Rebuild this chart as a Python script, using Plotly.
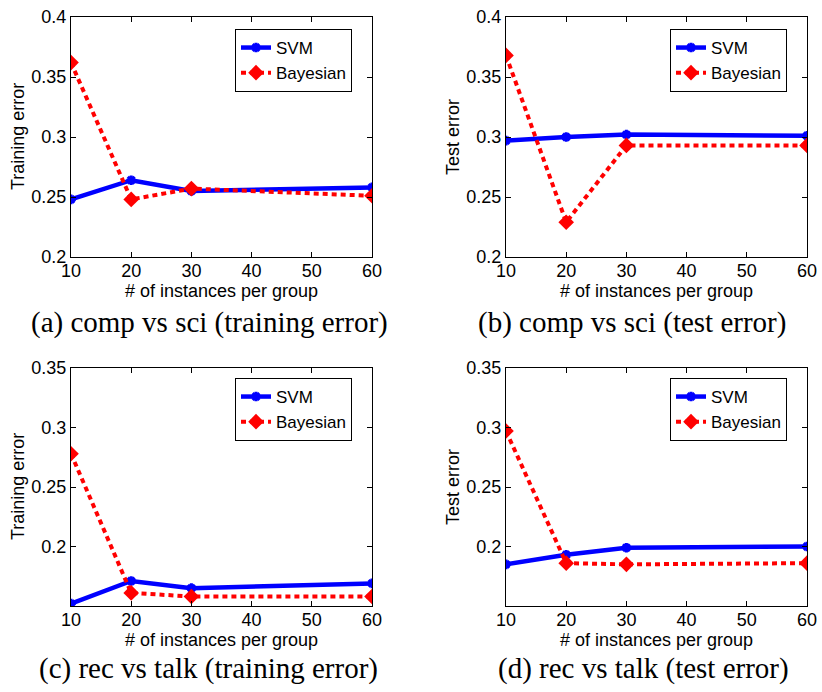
import plotly.graph_objects as go

# Number of instances per group
instances = [10, 20, 30, 60]

# (a) comp vs sci, training error
svm_comp_train = [0.248, 0.264, 0.255, 0.258]
bayes_comp_train = [0.362, 0.248, 0.257, 0.251]
# (b) comp vs sci, test error
svm_comp_test = [0.297, 0.300, 0.302, 0.301]
bayes_comp_test = [0.368, 0.229, 0.293, 0.293]
# (c) rec vs talk, training error
svm_rec_train = [0.152, 0.171, 0.165, 0.169]
bayes_rec_train = [0.278, 0.161, 0.158, 0.158]
# (d) rec vs talk, test error
svm_rec_test = [0.185, 0.193, 0.199, 0.200]
bayes_rec_test = [0.297, 0.186, 0.185, 0.186]

x_ticks = [10, 20, 30, 40, 50, 60]
y_ticks_top = [0.2, 0.25, 0.3, 0.35, 0.4]
y_ticks_bottom = [0.2, 0.25, 0.3, 0.35]
y_range_top = [0.2, 0.4]
y_range_bottom = [0.15, 0.35]

captions = [
    "(a) comp vs sci (training error)",
    "(b) comp vs sci (test error)",
    "(c) rec vs talk (training error)",
    "(d) rec vs talk (test error)",
]
y_titles = ["Training error", "Test error", "Training error", "Test error"]
x_title = "# of instances per group"

W, H = 822, 692
SANS = "Liberation Sans, Arial, sans-serif"
SERIF = "Liberation Serif, Times New Roman, serif"
BLUE = "#0000ff"
RED = "#ff0000"

# plot boxes in pixels: (left, right, top, bottom)
boxes = [
    (71, 372, 17, 257),
    (506, 807, 17, 257),
    (71, 372, 368, 606),
    (506, 807, 368, 606),
]
panels = [
    (svm_comp_train, bayes_comp_train, y_range_top, y_ticks_top),
    (svm_comp_test, bayes_comp_test, y_range_top, y_ticks_top),
    (svm_rec_train, bayes_rec_train, y_range_bottom, y_ticks_bottom),
    (svm_rec_test, bayes_rec_test, y_range_bottom, y_ticks_bottom),
]
# legend boxes top-right corner in pixels
legend_corner = [(352, 29), (787, 29), (352, 378), (787, 378)]
caption_pos = [(209, 322), (632, 322), (208, 668), (643, 668)]


def px(x, y):
    """Pixel position -> paper coordinates."""
    return x / W, 1 - y / H


fig = go.Figure()
layout = dict(
    width=W, height=H,
    margin=dict(l=0, r=0, t=0, b=0),
    paper_bgcolor="white", plot_bgcolor="white",
    font=dict(family=SANS, color="black"),
    annotations=[],
)

for i, ((svm, bayes, yr, yt), (l, r, t, b)) in enumerate(zip(panels, boxes)):
    n = "" if i == 0 else str(i + 1)
    leg = "legend" + n
    fig.add_trace(go.Scatter(
        x=instances, y=svm, name="SVM", mode="lines+markers",
        line=dict(color=BLUE, width=4.5),
        marker=dict(symbol="asterisk-open", size=8, color=BLUE,
                    line=dict(color=BLUE, width=3)),
        xaxis="x" + n, yaxis="y" + n, legend=leg,
    ))
    fig.add_trace(go.Scatter(
        x=instances, y=bayes, name="Bayesian", mode="lines+markers",
        line=dict(color=RED, width=4, dash="5px,4px"),
        marker=dict(symbol="diamond", size=12, color=RED),
        xaxis="x" + n, yaxis="y" + n, legend=leg,
    ))
    axis_common = dict(
        showline=True, linecolor="black", linewidth=1, mirror="ticks",
        ticks="inside", ticklen=5, tickcolor="black", tickwidth=1,
        showgrid=False, zeroline=False, automargin=False,
        tickfont=dict(family=SANS, size=18, color="black"),
    )
    layout["xaxis" + n] = dict(
        axis_common,
        domain=[l / W, r / W], anchor="y" + n, range=[10, 60],
        tickvals=x_ticks, ticktext=[str(v) for v in x_ticks],
        ticklabelstandoff=-3,
    )
    layout["yaxis" + n] = dict(
        axis_common,
        domain=[1 - b / H, 1 - t / H], anchor="x" + n, range=yr,
        tickvals=yt, ticktext=[f"{v:g}" for v in yt],
    )
    lx, ly = legend_corner[i]
    layout[leg] = dict(
        x=lx / W, y=1 - ly / H, xanchor="right", yanchor="top",
        xref="paper", yref="paper",
        bgcolor="white", bordercolor="black", borderwidth=1,
        font=dict(family=SANS, size=17, color="black"),
        itemwidth=30, tracegroupgap=0,
    )

    # axis titles
    ax_x, ax_y = px((l + r) / 2, b + 34)
    layout["annotations"].append(dict(
        text=x_title, x=ax_x, y=ax_y, xref="paper", yref="paper",
        xanchor="center", yanchor="middle", showarrow=False,
        font=dict(family=SANS, size=18, color="black"),
    ))
    ay_x, ay_y = px(l - 53, (t + b) / 2)
    layout["annotations"].append(dict(
        text=y_titles[i], x=ay_x, y=ay_y, xref="paper", yref="paper",
        xanchor="center", yanchor="middle", showarrow=False, textangle=-90,
        font=dict(family=SANS, size=18, color="black"),
    ))

    # panel caption
    cx, cy = px(*caption_pos[i])
    layout["annotations"].append(dict(
        text=captions[i], x=cx, y=cy, xref="paper", yref="paper",
        xanchor="center", yanchor="middle", showarrow=False,
        font=dict(family=SERIF, size=29, color="black"),
    ))

fig.update_layout(**layout)
fig.write_html("out.html")
